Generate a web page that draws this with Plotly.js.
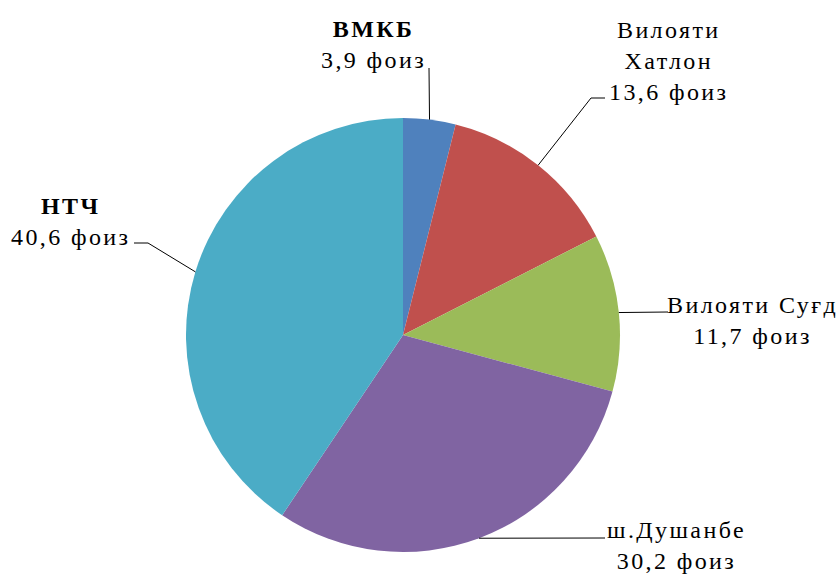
<!DOCTYPE html>
<html>
<head>
<meta charset="utf-8">
<script src="https://cdn.plot.ly/plotly-3.0.1.min.js"></script>
<style>
html,body{margin:0;padding:0;background:#fff;}
#chart{width:840px;height:575px;}
.annotation-text{letter-spacing:2.4px;}
</style>
</head>
<body>
<div id="chart"></div>
<script>
// ---- data ----
const categories = ["ВМКБ", "Вилояти Хатлон", "Вилояти Суғд", "ш.Душанбе", "НТЧ"];
const labelLines = ["<b>ВМКБ</b>", "Вилояти<br>Хатлон", "Вилояти Суғд", "ш.Душанбе", "<b>НТЧ</b>"];
const shares = [3.9, 13.6, 11.7, 30.2, 40.6];
const unit = "фоиз";
const colors = ["#4F81BD", "#C0504D", "#9BBB59", "#8064A2", "#4BACC6"];

// ---- layout (pixels) ----
const W = 840, H = 575;
const cx = 403, cy = 335, R = 217;
const labelPos = [[373, 44], [668, 61], [752, 320], [676, 545], [70, 221]];
const elbows = [
  [[429, 68]],
  [[591, 98], [605, 98]],
  [[668, 312]],
  [[605, 538]],
  [[148, 243], [134, 243]]
];
const px = x => x / W, py = y => 1 - y / H;

const fmt = v => v.toFixed(1).replace('.', ',');

const total = shares.reduce((a, b) => a + b, 0);
let cum = 0;
const shapes = [], annotations = [];
shares.forEach((v, i) => {
  const mid = (cum + v / 2) / total * 2 * Math.PI;
  cum += v;
  const sx = cx + R * Math.sin(mid), sy = cy - R * Math.cos(mid);
  let path = `M${px(sx)},${py(sy)}`;
  elbows[i].forEach(p => { path += ` L${px(p[0])},${py(p[1])}`; });
  shapes.push({type: 'path', xref: 'paper', yref: 'paper', path: path,
    line: {color: '#000', width: 1}});
  annotations.push({xref: 'paper', yref: 'paper', x: px(labelPos[i][0]), y: py(labelPos[i][1]),
    xanchor: 'center', yanchor: 'middle', align: 'center', showarrow: false,
    text: labelLines[i] + '<br>' + fmt(v) + ' ' + unit,
    font: {family: 'Times New Roman, Tinos, Times, serif', size: 24, color: '#000'}});
});

const trace = {
  type: 'pie',
  labels: categories,
  values: shares,
  sort: false,
  direction: 'clockwise',
  rotation: 0,
  textinfo: 'none',
  hoverinfo: 'label+value',
  marker: {colors: colors, line: {color: '#ffffff', width: 0}},
  domain: {x: [px(cx - R), px(cx + R)], y: [py(cy + R), py(cy - R)]}
};

Plotly.newPlot('chart', [trace], {
  width: W, height: H,
  margin: {l: 0, r: 0, t: 0, b: 0},
  showlegend: false,
  paper_bgcolor: '#fff',
  shapes: shapes,
  annotations: annotations
}, {displayModeBar: false, staticPlot: true});
</script>
</body>
</html>
